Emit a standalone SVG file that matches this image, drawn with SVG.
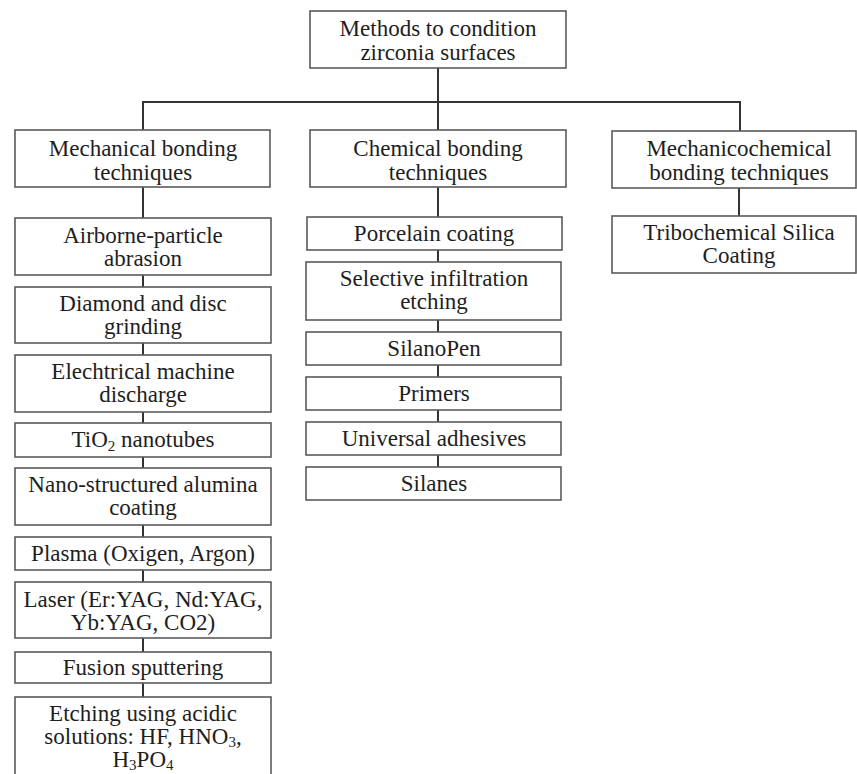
<svg xmlns="http://www.w3.org/2000/svg" width="857" height="774" viewBox="0 0 857 774">
<style>
  .box { fill: #ffffff; stroke: #5a5a5a; stroke-width: 1.6; }
  .lbl { font-family: "Liberation Serif", "Times New Roman", serif; font-size: 23px; fill: #1e1e1e; text-anchor: middle; }
  .sub { font-size: 15px; }
  .conn { stroke: #333333; stroke-width: 2; fill: none; }
</style>
<rect width="857" height="774" fill="#ffffff"/>

<g id="connectors">
  <line class="conn" x1="438" y1="68" x2="438" y2="102"/>
  <line class="conn" x1="143" y1="102" x2="740" y2="102"/>
  <line class="conn" x1="143" y1="101" x2="143" y2="130"/>
  <line class="conn" x1="438" y1="102" x2="438" y2="130"/>
  <line class="conn" x1="740" y1="101" x2="740" y2="131"/>
  <!-- mechanical column -->
  <line class="conn" x1="143" y1="187" x2="143" y2="218"/>
  <line class="conn" x1="143" y1="275" x2="143" y2="287"/>
  <line class="conn" x1="143" y1="343" x2="143" y2="355"/>
  <line class="conn" x1="143" y1="412" x2="143" y2="423"/>
  <line class="conn" x1="143" y1="457" x2="143" y2="468"/>
  <line class="conn" x1="143" y1="525" x2="143" y2="537"/>
  <line class="conn" x1="143" y1="570" x2="143" y2="582"/>
  <line class="conn" x1="143" y1="638" x2="143" y2="652"/>
  <line class="conn" x1="143" y1="683" x2="143" y2="697"/>
  <!-- chemical column -->
  <line class="conn" x1="438" y1="187" x2="438" y2="217"/>
  <line class="conn" x1="438" y1="250" x2="438" y2="262"/>
  <line class="conn" x1="438" y1="320" x2="438" y2="332"/>
  <line class="conn" x1="438" y1="365" x2="438" y2="377"/>
  <line class="conn" x1="438" y1="410" x2="438" y2="422"/>
  <line class="conn" x1="438" y1="455" x2="438" y2="467"/>
  <!-- mechanicochemical column -->
  <line class="conn" x1="739" y1="188" x2="739" y2="216"/>
</g>

<g id="root">
  <rect class="box" x="310" y="11" width="256" height="57"/>
  <text class="lbl" x="438" y="36">Methods to condition</text>
  <text class="lbl" x="438" y="60">zirconia surfaces</text>
</g>

<g id="mechanical">
  <rect class="box" x="15" y="130" width="255" height="57"/>
  <text class="lbl" x="143" y="156">Mechanical bonding</text>
  <text class="lbl" x="143" y="180">techniques</text>
</g>
<g id="chemical">
  <rect class="box" x="310" y="130" width="256" height="57"/>
  <text class="lbl" x="438" y="156">Chemical bonding</text>
  <text class="lbl" x="438" y="180">techniques</text>
</g>
<g id="mechanicochemical">
  <rect class="box" x="612" y="131" width="244" height="57"/>
  <text class="lbl" x="739" y="156">Mechanicochemical</text>
  <text class="lbl" x="739" y="180">bonding techniques</text>
</g>

<g id="airborne">
  <rect class="box" x="15" y="218" width="256" height="57"/>
  <text class="lbl" x="143" y="243">Airborne-particle</text>
  <text class="lbl" x="143" y="266">abrasion</text>
</g>
<g id="diamond">
  <rect class="box" x="15" y="287" width="256" height="56"/>
  <text class="lbl" x="143" y="311">Diamond and disc</text>
  <text class="lbl" x="143" y="334">grinding</text>
</g>
<g id="edm">
  <rect class="box" x="15" y="355" width="256" height="57"/>
  <text class="lbl" x="143" y="379">Elechtrical machine</text>
  <text class="lbl" x="143" y="402">discharge</text>
</g>
<g id="tio2">
  <rect class="box" x="15" y="423" width="256" height="34"/>
  <text class="lbl" x="143" y="447">TiO<tspan class="sub" dy="4">2</tspan><tspan dy="-4"> nanotubes</tspan></text>
</g>
<g id="nano">
  <rect class="box" x="15" y="468" width="256" height="57"/>
  <text class="lbl" x="143" y="492">Nano-structured alumina</text>
  <text class="lbl" x="143" y="515">coating</text>
</g>
<g id="plasma">
  <rect class="box" x="15" y="537" width="256" height="33"/>
  <text class="lbl" x="143" y="561">Plasma (Oxigen, Argon)</text>
</g>
<g id="laser">
  <rect class="box" x="15" y="582" width="256" height="56"/>
  <text class="lbl" x="143" y="607">Laser (Er:YAG, Nd:YAG,</text>
  <text class="lbl" x="143" y="630">Yb:YAG, CO2)</text>
</g>
<g id="fusion">
  <rect class="box" x="15" y="652" width="256" height="31"/>
  <text class="lbl" x="143" y="675">Fusion sputtering</text>
</g>
<g id="etching">
  <rect class="box" x="15" y="697" width="256" height="95"/>
  <text class="lbl" x="143" y="721">Etching using acidic</text>
  <text class="lbl" x="143" y="744">solutions: HF, HNO<tspan class="sub" dy="3">3</tspan><tspan dy="-3">,</tspan></text>
  <text class="lbl" x="143" y="767">H<tspan class="sub" dy="3">3</tspan><tspan dy="-3">PO</tspan><tspan class="sub" dy="3">4</tspan></text>
</g>

<g id="porcelain">
  <rect class="box" x="307" y="217" width="255" height="33"/>
  <text class="lbl" x="434" y="241">Porcelain coating</text>
</g>
<g id="selective">
  <rect class="box" x="306" y="262" width="255" height="58"/>
  <text class="lbl" x="434" y="286">Selective infiltration</text>
  <text class="lbl" x="434" y="309">etching</text>
</g>
<g id="silanopen">
  <rect class="box" x="306" y="332" width="255" height="33"/>
  <text class="lbl" x="434" y="356">SilanoPen</text>
</g>
<g id="primers">
  <rect class="box" x="306" y="377" width="255" height="33"/>
  <text class="lbl" x="434" y="401">Primers</text>
</g>
<g id="universal">
  <rect class="box" x="306" y="422" width="255" height="33"/>
  <text class="lbl" x="434" y="446">Universal adhesives</text>
</g>
<g id="silanes">
  <rect class="box" x="306" y="467" width="255" height="33"/>
  <text class="lbl" x="434" y="491">Silanes</text>
</g>

<g id="tribochemical">
  <rect class="box" x="612" y="216" width="244" height="57"/>
  <text class="lbl" x="739" y="240">Tribochemical Silica</text>
  <text class="lbl" x="739" y="263">Coating</text>
</g>
</svg>
